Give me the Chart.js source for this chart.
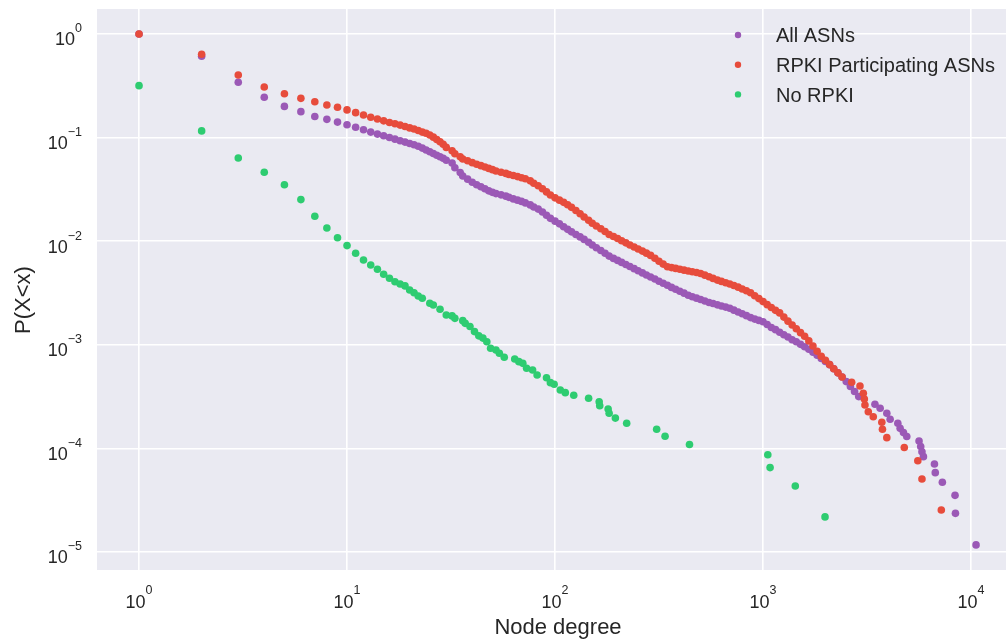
<!DOCTYPE html>
<html>
<head>
<meta charset="utf-8">
<script src="https://cdn.jsdelivr.net/npm/chart.js@4/dist/chart.umd.min.js"></script>
<style>
  html, body { margin: 0; padding: 0; background: #ffffff; }
  #wrap { width: 1006px; height: 643px; position: relative; }
</style>
</head>
<body>
<div id="wrap"><canvas id="chart"></canvas></div>
<script>
// degree / P(X<x) pairs
const allDegree = [
  1, 2, 3, 4, 5, 6, 7, 8, 9, 10, 11, 12, 13, 14, 15, 16, 17, 18, 19, 20,
  21, 22, 23, 24, 25, 26, 27, 28, 29,
  30, 32, 33, 35, 36, 38, 40, 42, 44, 46, 48, 50, 52, 55, 58, 60, 63, 66, 69, 72,
  76, 79, 83, 87, 91, 95, 100, 105, 110, 115, 120, 126, 132, 138, 145, 151, 158, 166, 174, 182,
  191, 200, 209, 219, 229, 240, 251, 263, 275, 288, 302, 316, 331, 347, 363, 380, 398, 417, 437, 457,
  479, 501, 525, 550, 575, 603, 631, 661, 692, 724, 759, 794, 832, 871, 912, 955, 1000, 1047, 1096, 1148,
  1202, 1259, 1318, 1380, 1445, 1514, 1585, 1660, 1738, 1820, 1905, 1995, 2089, 2188, 2291, 2399,
  2512, 2630, 2754, 2884,
  3451, 3656, 3936, 4083, 4446, 4560, 4732, 4909, 5623, 5728, 5808, 5902, 6668, 6730, 7278, 8375, 8414, 10568
];
const allProb = [
  1.0, 0.609, 0.342, 0.245, 0.200, 0.178, 0.160, 0.150, 0.141, 0.133, 0.126, 0.119, 0.113, 0.108, 0.104, 0.100, 0.0966, 0.0933, 0.0904, 0.0877,
  0.0853, 0.0826, 0.0791, 0.0759, 0.0729, 0.0701, 0.0676, 0.0652, 0.0631,
  0.0605, 0.0569, 0.0512, 0.0459, 0.0426, 0.0397, 0.0370, 0.0351, 0.0335, 0.0321, 0.0306, 0.0296, 0.0288, 0.0280, 0.0272, 0.0265, 0.0256, 0.0249, 0.0242, 0.0234,
  0.0224, 0.0214, 0.0204, 0.0191, 0.0178, 0.0166, 0.0156, 0.0147, 0.0138, 0.0130, 0.0123, 0.0116, 0.0110, 0.0104, 0.00977, 0.00920, 0.00865, 0.00813, 0.00764, 0.00718,
  0.00682, 0.00652, 0.00624, 0.00596, 0.00569, 0.00543, 0.00519, 0.00494, 0.00472, 0.00451, 0.00431, 0.00411, 0.00393, 0.00375, 0.00358, 0.00344, 0.00329, 0.00315, 0.00301, 0.00291,
  0.00282, 0.00274, 0.00265, 0.00256, 0.00250, 0.00243, 0.00237, 0.00231, 0.00225, 0.00216, 0.00207, 0.00199, 0.00191, 0.00183, 0.00177, 0.00172, 0.00167, 0.00157, 0.00147, 0.00140,
  0.00132, 0.00125, 0.00119, 0.00112, 0.00107, 0.00101, 0.000957, 0.000906, 0.000849, 0.000793, 0.000738, 0.000689, 0.000643, 0.000587, 0.000536, 0.000489,
  0.000441, 0.000395, 0.000354, 0.000316,
  2.67e-4, 2.44e-4, 2.18e-4, 1.91e-4, 1.75e-4, 1.56e-4, 1.42e-4, 1.30e-4, 1.18e-4, 1.04e-4, 9.29e-5, 8.32e-5, 7.06e-5, 5.83e-5, 4.71e-5, 3.52e-5, 2.36e-5, 1.17e-5
];

const rpkiDegree = [
  1, 2, 3, 4, 5, 6, 7, 8, 9, 10, 11, 12, 13, 14, 15, 16, 17, 18, 19, 20,
  21, 22, 23, 24, 25, 26, 27, 28, 29,
  30, 32, 33, 35, 36, 38, 40, 42, 44, 46, 48, 50, 52, 55, 58, 60, 63, 66, 69, 72,
  76, 79, 83, 87, 91, 95, 100, 105, 110, 115, 120, 126, 132, 138, 145, 151, 158, 166, 174, 182,
  191, 200, 209, 219, 229, 240, 251, 263, 275, 288, 302, 316, 331, 347, 363, 380, 398, 417, 437, 457,
  479, 501, 525, 550, 575, 603, 631, 661, 692, 724, 759, 794, 832, 871, 912, 955, 1000, 1047, 1096, 1148,
  1202, 1259, 1318, 1380, 1445, 1514, 1585, 1660, 1738, 1820, 1905, 1995, 2089, 2188, 2291, 2399,
  2667, 2924, 3034, 3069, 3090, 3206, 3388, 3724, 3750, 3936, 4775, 5546, 5808, 7194
];
const rpkiProb = [
  1.0, 0.637, 0.402, 0.308, 0.265, 0.239, 0.222, 0.206, 0.196, 0.185, 0.174, 0.165, 0.157, 0.151, 0.145, 0.140, 0.136, 0.132, 0.128, 0.124,
  0.121, 0.117, 0.113, 0.110, 0.106, 0.101, 0.0959, 0.0912, 0.0861,
  0.0804, 0.0746, 0.0698, 0.0652, 0.0622, 0.0597, 0.0573, 0.0553, 0.0536, 0.0520, 0.0504, 0.0490, 0.0476, 0.0463, 0.0451, 0.0440, 0.0430, 0.0420, 0.0410, 0.0401,
  0.0382, 0.0362, 0.0343, 0.0321, 0.0299, 0.0279, 0.0262, 0.0249, 0.0237, 0.0225, 0.0212, 0.0198, 0.0184, 0.0171, 0.0159, 0.0149, 0.0140, 0.0132, 0.0124, 0.0116,
  0.0111, 0.0106, 0.0101, 0.00964, 0.00920, 0.00879, 0.00839, 0.00802, 0.00766, 0.00729, 0.00684, 0.00641, 0.00601, 0.00566, 0.00556, 0.00546, 0.00535, 0.00525, 0.00515, 0.00507,
  0.00498, 0.00488, 0.00470, 0.00453, 0.00437, 0.00421, 0.00409, 0.00397, 0.00386, 0.00374, 0.00360, 0.00345, 0.00332, 0.00318, 0.00297, 0.00279, 0.00261, 0.00244, 0.00229, 0.00215,
  0.00203, 0.00185, 0.00169, 0.00155, 0.00143, 0.00131, 0.00121, 0.00109, 0.000973, 0.000865, 0.000776, 0.000708, 0.000644, 0.000587, 0.000536, 0.000488,
  4.35e-4, 4.00e-4, 3.40e-4, 3.00e-4, 2.62e-4, 2.26e-4, 2.02e-4, 1.79e-4, 1.53e-4, 1.27e-4, 1.02e-4, 7.60e-5, 5.07e-5, 2.54e-5
];

const noRpkiDegree = [
  1, 2, 3, 4, 5, 6, 7, 8, 9, 10, 11, 12, 13, 14, 15, 16, 17, 18, 19, 20, 21, 22, 23,
  25, 26, 28, 30, 32, 33, 36, 37, 39, 41, 43, 45, 47, 49, 52, 54, 57, 64, 67, 70,
  73, 78, 82, 91, 95, 99, 106, 112, 123, 145, 163, 164, 180, 182, 195, 221, 308, 338, 443,
  1054, 1081, 1429, 1986
];
const noRpkiProb = [
  0.317, 0.116, 0.0636, 0.0462, 0.0351, 0.0252, 0.0174, 0.0134, 0.0108, 0.00906,
  0.00764, 0.00659, 0.00589, 0.00536, 0.00479, 0.00439, 0.00406, 0.00386, 0.00370, 0.00338, 0.00318, 0.00296, 0.00281,
  0.00252, 0.00242, 0.00220, 0.00194, 0.00190, 0.00180, 0.00171, 0.00161, 0.00150, 0.00134,
  0.00122, 0.00116, 0.00107, 0.000925, 0.000891, 0.000828, 0.000757, 0.000729, 0.000687, 0.000662,
  0.000593, 0.000571, 0.000511, 0.000481, 0.000431, 0.000416, 0.000366, 0.000345, 0.000326, 0.000305,
  0.000282, 0.000258, 0.000240, 0.000218, 0.000196, 0.000175, 0.000153, 0.000131, 0.000109,
  8.69e-5, 6.52e-5, 4.34e-5, 2.18e-5
];

const seriesNames = ['All ASNs', 'RPKI Participating ASNs', 'No RPKI'];
const xTickPowers = [0, 1, 2, 3, 4];
const yTickPowers = [0, -1, -2, -3, -4, -5];

const FONT = '"Liberation Sans", Arial, sans-serif';
const INK = '#262626';

const toPoints = (xs, ys) => xs.map((x, i) => ({ x: x, y: ys[i] }));
const expText = p => (p < 0 ? '\u2212' + (-p) : String(p));

// seaborn-like background, power-of-ten labels, titles and legend
const decorations = {
    id: 'decorations',
    beforeDraw(chart) {
        const { ctx, chartArea: a } = chart;
        ctx.save();
        ctx.fillStyle = '#eaeaf2';
        ctx.fillRect(a.left, a.top, a.right - a.left, a.bottom - a.top);
        ctx.restore();
    },
    afterDraw(chart) {
        const { ctx } = chart;
        const xs = chart.scales.x;
        const ys = chart.scales.y;
        ctx.save();
        ctx.fillStyle = INK;
        ctx.textBaseline = 'alphabetic';
        ctx.textAlign = 'left';

        // x tick labels: 10^n centred under each gridline
        xTickPowers.forEach(p => {
            const px = xs.getPixelForValue(Math.pow(10, p));
            ctx.font = '18px ' + FONT;
            const wBase = ctx.measureText('10').width;
            ctx.font = '12.5px ' + FONT;
            const wExp = ctx.measureText(expText(p)).width;
            const left = px - (wBase + wExp) / 2;
            ctx.font = '18px ' + FONT;
            ctx.fillText('10', left, 608);
            ctx.font = '12.5px ' + FONT;
            ctx.fillText(expText(p), left + wBase, 594);
        });

        // y tick labels: right aligned at x = 82
        ctx.textAlign = 'right';
        yTickPowers.forEach(p => {
            const py = ys.getPixelForValue(Math.pow(10, p));
            ctx.font = '12.5px ' + FONT;
            const wExp = ctx.measureText(expText(p)).width;
            ctx.fillText(expText(p), 82, py - 1.5);
            ctx.font = '18px ' + FONT;
            ctx.fillText('10', 82 - wExp, py + 11.5);
        });

        // axis titles
        ctx.font = '22px ' + FONT;
        ctx.textAlign = 'center';
        ctx.fillText('Node degree', 558, 634);
        ctx.save();
        ctx.translate(30, 300);
        ctx.rotate(-Math.PI / 2);
        ctx.fillText('P(X<x)', 0, 0);
        ctx.restore();

        // legend (no frame, top right inside the axes)
        ctx.textAlign = 'left';
        ctx.font = '20px ' + FONT;
        chart.data.datasets.forEach((ds, i) => {
            const cy = 35 + i * 29.7;
            ctx.beginPath();
            ctx.fillStyle = ds.backgroundColor;
            ctx.arc(738, cy, 3.2, 0, Math.PI * 2);
            ctx.fill();
            ctx.fillStyle = INK;
            ctx.fillText(ds.label, 776, cy + 7.3);
        });
        ctx.restore();
    }
};

const logAxis = (min, max, powers, fit) => ({
    type: 'logarithmic',
    min: min,
    max: max,
    bounds: 'data',
    afterBuildTicks(axis) {
        axis.ticks = powers.map(p => ({ value: Math.pow(10, p) }));
    },
    afterFit: fit,
    grid: { color: '#ffffff', lineWidth: 1.6, drawTicks: false },
    border: { display: false },
    ticks: { display: false }
});

new Chart(document.getElementById('chart'), {
    type: 'scatter',
    data: {
        datasets: [
            { label: seriesNames[0], data: toPoints(allDegree, allProb), backgroundColor: '#9b59b6', order: 3 },
            { label: seriesNames[1], data: toPoints(rpkiDegree, rpkiProb), backgroundColor: '#e74c3c', order: 2 },
            { label: seriesNames[2], data: toPoints(noRpkiDegree, noRpkiProb), backgroundColor: '#2ecc71', order: 1 }
        ]
    },
    options: {
        responsive: true,
        maintainAspectRatio: false,
        animation: false,
        devicePixelRatio: 1,
        layout: { autoPadding: false, padding: { top: 9, left: 0, right: 0, bottom: 0 } },
        elements: {
            point: { radius: 3.8, hoverRadius: 3.8, borderWidth: 0, hoverBorderWidth: 0 }
        },
        plugins: {
            legend: { display: false },
            tooltip: { enabled: false }
        },
        scales: {
            x: logAxis(0.628, 14723, xTickPowers, axis => { axis.height = 73; }),
            y: logAxis(6.70e-6, 1.742, yTickPowers, axis => { axis.width = 97; })
        }
    },
    plugins: [decorations]
});
</script>
</body>
</html>
